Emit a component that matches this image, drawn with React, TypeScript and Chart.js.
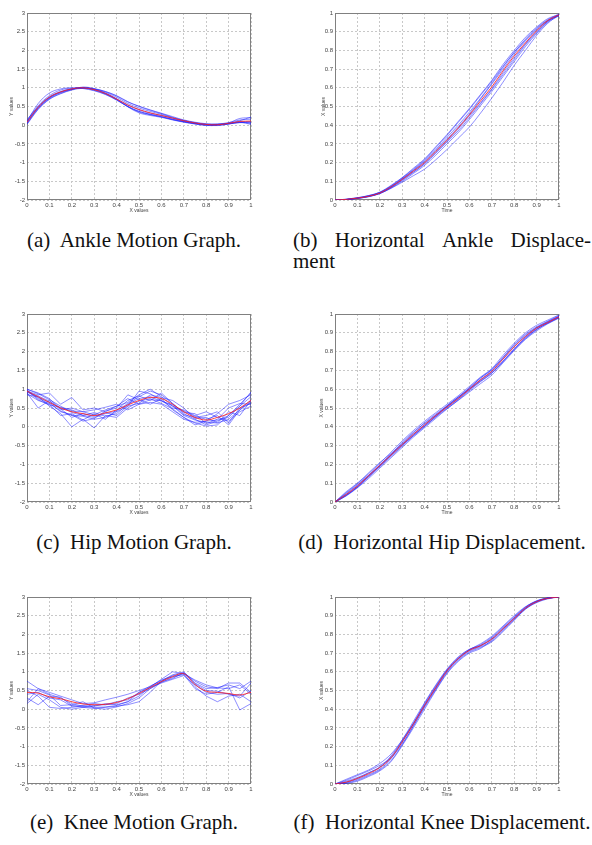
import React, { useEffect, useRef } from "react";
import { Chart, registerables } from "chart.js";
Chart.register(...registerables);

// ---------- data ----------
const TIME = [0, 0.05, 0.1, 0.15, 0.2, 0.25, 0.3, 0.35, 0.4, 0.45, 0.5, 0.55, 0.6, 0.65, 0.7, 0.75, 0.8, 0.85, 0.9, 0.95, 1];

// (a) Ankle motion
const ANKLE_MEAN = [0.08, 0.48, 0.75, 0.89, 0.97, 1.0, 0.95, 0.85, 0.7, 0.54, 0.42, 0.33, 0.26, 0.19, 0.12, 0.06, 0.02, 0.01, 0.05, 0.1, 0.11];
const ANKLE_1 = [0.02, 0.42, 0.69, 0.84, 0.94, 0.99, 0.97, 0.9, 0.78, 0.62, 0.51, 0.41, 0.32, 0.23, 0.14, 0.08, 0.04, 0.03, 0.05, 0.12, 0.22];
const ANKLE_2 = [0.1, 0.58, 0.86, 0.97, 1.0, 0.98, 0.92, 0.82, 0.67, 0.5, 0.37, 0.29, 0.23, 0.16, 0.1, 0.05, 0.01, 0.0, 0.03, 0.07, 0.05];
const ANKLE_3 = [0.15, 0.5, 0.76, 0.9, 0.97, 1.0, 0.95, 0.85, 0.69, 0.5, 0.35, 0.28, 0.22, 0.15, 0.09, 0.04, 0.0, -0.01, 0.03, 0.08, 0.02];
const ANKLE_4 = [0.05, 0.45, 0.72, 0.87, 0.96, 1.01, 0.97, 0.88, 0.75, 0.58, 0.46, 0.37, 0.29, 0.2, 0.12, 0.06, 0.02, 0.02, 0.06, 0.18, 0.2];
const ANKLE_5 = [0.08, 0.48, 0.74, 0.88, 0.96, 1.0, 0.96, 0.86, 0.71, 0.54, 0.41, 0.32, 0.26, 0.18, 0.11, 0.05, 0.02, 0.02, 0.05, 0.09, 0.1];
const ANKLE_6 = [0.12, 0.52, 0.79, 0.94, 0.99, 0.99, 0.93, 0.83, 0.68, 0.49, 0.33, 0.26, 0.21, 0.14, 0.08, 0.03, -0.01, 0.0, 0.04, 0.08, 0.06];
const ANKLE_7 = [0.04, 0.44, 0.7, 0.85, 0.95, 1.02, 0.98, 0.9, 0.79, 0.63, 0.5, 0.4, 0.31, 0.21, 0.13, 0.07, 0.03, 0.03, 0.07, 0.14, 0.16];
const ANKLE_8 = [0.1, 0.47, 0.73, 0.89, 0.97, 1.0, 0.95, 0.84, 0.69, 0.5, 0.37, 0.29, 0.23, 0.15, 0.09, 0.04, 0.01, 0.01, 0.04, 0.07, 0.08];

// (b) Horizontal ankle displacement
const ANKLE_X_MEAN = [0, 0.003, 0.01, 0.02, 0.037, 0.07, 0.11, 0.155, 0.2, 0.26, 0.32, 0.385, 0.455, 0.53, 0.605, 0.69, 0.77, 0.84, 0.905, 0.96, 0.99];
const ANKLE_X_1 = [0, 0.004, 0.012, 0.024, 0.042, 0.078, 0.12, 0.17, 0.22, 0.285, 0.35, 0.42, 0.49, 0.565, 0.64, 0.725, 0.8, 0.87, 0.925, 0.97, 0.99];
const ANKLE_X_2 = [0, 0.002, 0.008, 0.018, 0.035, 0.062, 0.095, 0.13, 0.165, 0.215, 0.27, 0.33, 0.39, 0.465, 0.545, 0.63, 0.72, 0.8, 0.88, 0.945, 0.99];
const ANKLE_X_3 = [0, 0.003, 0.011, 0.022, 0.04, 0.073, 0.115, 0.16, 0.21, 0.27, 0.335, 0.4, 0.47, 0.545, 0.625, 0.71, 0.79, 0.86, 0.92, 0.965, 0.995];
const ANKLE_X_4 = [0, 0.003, 0.009, 0.019, 0.036, 0.066, 0.105, 0.148, 0.193, 0.25, 0.31, 0.37, 0.44, 0.515, 0.59, 0.67, 0.75, 0.83, 0.895, 0.955, 0.99];
const ANKLE_X_5 = [0, 0.004, 0.012, 0.023, 0.041, 0.075, 0.118, 0.165, 0.215, 0.28, 0.345, 0.415, 0.485, 0.56, 0.635, 0.715, 0.79, 0.855, 0.915, 0.96, 0.985];
const ANKLE_X_6 = [0, 0.002, 0.009, 0.019, 0.035, 0.068, 0.108, 0.15, 0.195, 0.255, 0.315, 0.38, 0.45, 0.52, 0.595, 0.68, 0.76, 0.835, 0.9, 0.955, 0.99];
const ANKLE_X_7 = [0, 0.003, 0.01, 0.021, 0.038, 0.07, 0.112, 0.158, 0.205, 0.265, 0.325, 0.39, 0.46, 0.54, 0.62, 0.7, 0.78, 0.85, 0.91, 0.96, 0.99];
const ANKLE_X_8 = [0, 0.002, 0.009, 0.018, 0.034, 0.064, 0.1, 0.142, 0.185, 0.24, 0.3, 0.36, 0.43, 0.505, 0.58, 0.66, 0.74, 0.82, 0.89, 0.95, 0.985];

// (c) Hip motion
const HIP_MEAN = [0.95, 0.8, 0.65, 0.5, 0.4, 0.35, 0.3, 0.37, 0.45, 0.58, 0.7, 0.78, 0.75, 0.6, 0.4, 0.25, 0.18, 0.25, 0.35, 0.5, 0.7];
const HIP_1 = [1.0, 0.88, 0.72, 0.55, 0.38, 0.3, 0.25, 0.35, 0.42, 0.62, 0.8, 0.95, 0.85, 0.62, 0.35, 0.2, 0.05, 0.15, 0.3, 0.55, 0.8];
const HIP_2 = [0.9, 0.5, 0.7, 0.45, 0.5, 0.4, 0.32, 0.45, 0.55, 0.65, 0.85, 1.0, 0.8, 0.55, 0.3, 0.18, 0.12, 0.1, 0.2, 0.45, 0.65];
const HIP_3 = [0.95, 0.85, 0.9, 0.6, 0.78, 0.45, 0.5, 0.4, 0.55, 0.75, 0.6, 0.72, 0.7, 0.5, 0.45, 0.3, 0.4, 0.25, 0.15, 0.4, 0.55];
const HIP_4 = [0.85, 0.8, 0.55, 0.35, 0.0, 0.2, -0.03, 0.3, 0.25, 0.5, 0.68, 0.75, 0.62, 0.48, 0.25, 0.1, 0.02, 0.05, 0.3, 0.6, 0.9];
const HIP_5 = [0.98, 0.75, 0.62, 0.42, 0.3, 0.28, 0.2, 0.25, 0.4, 0.55, 0.95, 0.88, 0.7, 0.55, 0.42, 0.28, 0.2, 0.3, 0.05, 0.45, 0.72];
const HIP_6 = [0.92, 0.82, 0.68, 0.5, 0.42, 0.4, 0.45, 0.52, 0.6, 0.45, 0.6, 0.65, 0.6, 0.4, 0.2, 0.12, 0.15, 0.35, 0.6, 0.7, 0.85];
const HIP_7 = [0.88, 0.7, 0.6, 0.3, 0.35, 0.18, 0.35, 0.2, 0.45, 0.7, 0.82, 0.7, 0.9, 0.62, 0.38, 0.35, 0.08, 0.2, 0.5, 0.62, 0.6];
const HIP_8 = [1.0, 0.9, 0.75, 0.48, 0.25, 0.35, 0.28, 0.38, 0.3, 0.55, 0.62, 0.85, 0.78, 0.7, 0.5, 0.22, 0.25, 0.1, 0.4, 0.3, 0.7];
const HIP_9 = [0.93, 0.78, 0.65, 0.4, 0.32, 0.15, 0.22, 0.42, 0.5, 0.85, 0.72, 0.6, 0.75, 0.45, 0.25, 0.05, 0.15, 0.18, 0.25, 0.55, 0.93];
const HIP_10 = [0.96, 0.72, 0.58, 0.52, 0.45, 0.3, 0.38, 0.28, 0.35, 0.6, 0.75, 0.8, 0.68, 0.58, 0.32, 0.25, 0.3, 0.4, 0.1, 0.5, 0.62];

// (d) Horizontal hip displacement
const HIP_X_MEAN = [0, 0.04, 0.085, 0.14, 0.195, 0.25, 0.305, 0.36, 0.41, 0.46, 0.505, 0.55, 0.6, 0.65, 0.695, 0.76, 0.825, 0.88, 0.925, 0.955, 0.985];
const HIP_X_1 = [0, 0.05, 0.097, 0.15, 0.205, 0.265, 0.325, 0.38, 0.43, 0.475, 0.52, 0.565, 0.615, 0.665, 0.71, 0.78, 0.845, 0.9, 0.94, 0.968, 0.995];
const HIP_X_2 = [0, 0.032, 0.075, 0.125, 0.18, 0.235, 0.29, 0.345, 0.395, 0.445, 0.495, 0.54, 0.585, 0.63, 0.675, 0.74, 0.805, 0.865, 0.91, 0.948, 0.978];
const HIP_X_3 = [0, 0.055, 0.1, 0.155, 0.21, 0.258, 0.312, 0.368, 0.422, 0.468, 0.512, 0.558, 0.608, 0.66, 0.705, 0.77, 0.838, 0.893, 0.932, 0.962, 0.992];
const HIP_X_4 = [0, 0.037, 0.078, 0.132, 0.187, 0.242, 0.297, 0.352, 0.402, 0.452, 0.497, 0.542, 0.592, 0.64, 0.685, 0.75, 0.815, 0.872, 0.918, 0.953, 0.984];
const HIP_X_5 = [0, 0.042, 0.088, 0.142, 0.198, 0.252, 0.308, 0.362, 0.412, 0.462, 0.508, 0.552, 0.602, 0.652, 0.698, 0.762, 0.828, 0.882, 0.928, 0.958, 0.988];
const HIP_X_6 = [0, 0.035, 0.08, 0.136, 0.19, 0.246, 0.3, 0.356, 0.406, 0.456, 0.501, 0.546, 0.596, 0.646, 0.69, 0.748, 0.812, 0.875, 0.92, 0.95, 0.98];
const HIP_X_7 = [0, 0.046, 0.092, 0.142, 0.192, 0.252, 0.318, 0.372, 0.418, 0.462, 0.509, 0.556, 0.606, 0.66, 0.704, 0.768, 0.834, 0.888, 0.927, 0.96, 0.987];
const HIP_X_8 = [0, 0.034, 0.081, 0.135, 0.194, 0.252, 0.304, 0.352, 0.402, 0.453, 0.512, 0.558, 0.6, 0.643, 0.686, 0.745, 0.81, 0.868, 0.917, 0.953, 0.982];

// (e) Knee motion
const KNEE_MEAN = [0.45, 0.43, 0.33, 0.28, 0.2, 0.14, 0.12, 0.13, 0.18, 0.28, 0.42, 0.58, 0.74, 0.87, 0.95, 0.66, 0.48, 0.45, 0.42, 0.38, 0.45];
const KNEE_1 = [0.75, 0.55, 0.4, 0.3, 0.15, 0.08, 0.05, 0.06, 0.1, 0.2, 0.45, 0.62, 0.76, 0.92, 1.0, 0.7, 0.55, 0.58, 0.65, 0.55, 0.75];
const KNEE_2 = [0.2, 0.55, 0.45, 0.35, 0.25, 0.15, 0.17, 0.25, 0.32, 0.4, 0.5, 0.6, 0.8, 1.0, 0.95, 0.6, 0.35, 0.2, 0.35, 0.4, 0.2];
const KNEE_3 = [0.3, 0.12, 0.35, 0.32, 0.1, 0.05, 0.02, 0.05, 0.08, 0.12, 0.2, 0.45, 0.75, 0.9, 0.97, 0.75, 0.6, 0.55, 0.7, 0.7, 0.45];
const KNEE_4 = [0.5, 0.35, 0.05, 0.02, 0.05, 0.08, 0.1, 0.12, 0.15, 0.3, 0.4, 0.55, 0.72, 0.85, 0.95, 0.78, 0.65, 0.57, 0.55, 0.65, 0.4];
const KNEE_5 = [0.4, 0.45, 0.3, 0.25, 0.08, 0.1, 0.15, 0.12, 0.2, 0.25, 0.45, 0.58, 0.7, 0.8, 0.9, 0.65, 0.45, 0.4, 0.42, 0.3, 0.5];
const KNEE_6 = [0.15, 0.4, 0.25, 0.05, 0.0, 0.05, 0.08, 0.15, 0.12, 0.2, 0.35, 0.6, 0.78, 0.88, 0.92, 0.55, 0.4, 0.45, 0.6, -0.02, 0.15];
const KNEE_7 = [0.55, 0.5, 0.38, 0.1, 0.12, 0.2, 0.03, 0.0, 0.06, 0.15, 0.3, 0.55, 0.73, 0.82, 0.98, 0.68, 0.5, 0.48, 0.4, 0.35, 0.7];

// (f) Horizontal knee displacement
const KNEE_X_MEAN = [0, 0.01, 0.03, 0.055, 0.088, 0.14, 0.225, 0.32, 0.42, 0.515, 0.605, 0.67, 0.715, 0.74, 0.775, 0.83, 0.885, 0.94, 0.975, 0.993, 1.0];
const KNEE_X_1 = [0, 0.025, 0.05, 0.075, 0.11, 0.16, 0.235, 0.325, 0.425, 0.52, 0.61, 0.675, 0.72, 0.745, 0.785, 0.84, 0.895, 0.945, 0.98, 0.995, 1.0];
const KNEE_X_2 = [0, 0.005, 0.02, 0.045, 0.075, 0.125, 0.21, 0.31, 0.41, 0.505, 0.595, 0.66, 0.705, 0.73, 0.76, 0.815, 0.875, 0.935, 0.97, 0.99, 1.0];
const KNEE_X_3 = [0, 0.015, 0.035, 0.06, 0.09, 0.15, 0.235, 0.335, 0.435, 0.53, 0.615, 0.68, 0.72, 0.74, 0.775, 0.83, 0.89, 0.945, 0.978, 0.995, 1.0];
const KNEE_X_4 = [0, 0.003, 0.015, 0.04, 0.07, 0.12, 0.205, 0.3, 0.4, 0.5, 0.59, 0.655, 0.7, 0.725, 0.77, 0.825, 0.88, 0.935, 0.972, 0.992, 1.0];
const KNEE_X_5 = [0, 0.01, 0.03, 0.06, 0.09, 0.145, 0.23, 0.325, 0.43, 0.525, 0.61, 0.672, 0.718, 0.75, 0.79, 0.845, 0.9, 0.948, 0.978, 0.994, 1.0];
const KNEE_X_6 = [0, 0.02, 0.045, 0.07, 0.1, 0.14, 0.215, 0.31, 0.415, 0.51, 0.6, 0.665, 0.71, 0.735, 0.765, 0.82, 0.88, 0.938, 0.974, 0.993, 1.0];
const KNEE_X_7 = [0, 0.008, 0.025, 0.05, 0.08, 0.135, 0.225, 0.32, 0.42, 0.515, 0.605, 0.67, 0.715, 0.74, 0.78, 0.835, 0.888, 0.94, 0.976, 0.994, 1.0];

// axis ranges
const MOTION_RANGE = [-2, 3, 0.5];
const DISP_RANGE = [0, 1, 0.1];
const TIME_RANGE = [0, 1, 0.1];

// ---------- drawing ----------
const SANS = "'Liberation Sans', Arial, Helvetica, sans-serif";
const SERIF = "'Liberation Serif', 'Times New Roman', Times, serif";

const framePlugin = {
  id: "frame",
  beforeDatasetsDraw(chart: any) {
    const { ctx, chartArea } = chart;
    const l = Math.round(chartArea.left) + 0.5;
    const t = Math.round(chartArea.top) + 0.5;
    const r = Math.round(chartArea.right) - 0.5;
    const b = Math.round(chartArea.bottom) - 0.5;
    ctx.save();
    ctx.strokeStyle = "#808080";
    ctx.lineWidth = 1;
    ctx.strokeRect(l, t, r - l, b - t);
    ctx.restore();
  },
};

type Geo = { plotL: number; plotT: number; plotR: number; plotB: number; yTitleX: number };

function fmt(v: any) {
  const n = Math.round(Number(v) * 10) / 10;
  return String(n);
}

function Panel(props: {
  geo: Geo;
  trials: number[][];
  mean: number[];
  yRange: number[];
  xTitle: string;
  yTitle: string;
  jagged: boolean;
  monotone: boolean;
}) {
  const ref = useRef<HTMLCanvasElement | null>(null);
  const { geo } = props;
  const padTop = 8;
  const padRight = 8;
  const xAxisH = 14;
  const cl = geo.plotL - (geo.plotL > 300 ? 30 : 27);
  const ct = geo.plotT - padTop;
  const cw = geo.plotR + padRight - cl;
  const ch = geo.plotB + xAxisH - ct;
  const yAxisW = geo.plotL - cl;

  useEffect(() => {
    const canvas = ref.current;
    if (!canvas) return;
    const pts = (arr: number[]) => TIME.map((x, i) => ({ x, y: arr[i] }));
    const curve = props.monotone
      ? { cubicInterpolationMode: "monotone" as const }
      : { tension: 0.35 };
    const datasets: any[] = [
      {
        data: pts(props.mean),
        borderColor: "rgba(255,30,30,0.85)",
        borderWidth: 1,
        pointRadius: 0,
        fill: false,
        ...curve,
      },
      ...props.trials.map((t) => ({
        data: pts(t),
        borderColor: "rgba(30,30,255,0.5)",
        borderWidth: 1,
        pointRadius: 0,
        fill: false,
        ...(props.jagged ? { tension: 0 } : curve),
      })),
    ];
    const tickFont = { family: SANS, size: 6 };
    const titleFont = { family: SANS, size: 5, lineHeight: 1.2 };
    const chart = new Chart(canvas, {
      type: "line",
      data: { datasets },
      options: {
        responsive: true,
        maintainAspectRatio: false,
        animation: false,
        events: [],
        layout: { padding: { top: padTop, right: padRight, bottom: 0, left: 0 } },
        plugins: { legend: { display: false }, tooltip: { enabled: false } },
        scales: {
          x: {
            type: "linear",
            min: TIME_RANGE[0],
            max: TIME_RANGE[1],
            ticks: {
              stepSize: TIME_RANGE[2],
              font: tickFont,
              color: "#444",
              padding: 2,
              maxRotation: 0,
              autoSkip: false,
              callback: (v: any) => fmt(v),
            },
            grid: { color: "#c8c8c8", lineWidth: 1, drawTicks: false },
            border: { display: false, dash: [2, 2] },
            title: { display: true, text: props.xTitle, font: titleFont, color: "#444", padding: { top: 0, bottom: 0 } },
            afterFit: (s: any) => {
              s.height = xAxisH;
            },
          },
          y: {
            type: "linear",
            min: props.yRange[0],
            max: props.yRange[1],
            ticks: {
              stepSize: props.yRange[2],
              font: tickFont,
              color: "#444",
              padding: 2,
              autoSkip: false,
              callback: (v: any) => fmt(v),
            },
            grid: { color: "#c8c8c8", lineWidth: 1, drawTicks: false },
            border: { display: false, dash: [2, 2] },
            title: {
              display: true,
              text: props.yTitle,
              font: titleFont,
              color: "#444",
              padding: { top: geo.yTitleX - cl - 3, bottom: 0 },
            },
            afterFit: (s: any) => {
              s.width = yAxisW;
            },
          },
        },
      } as any,
      plugins: [framePlugin],
    });
    return () => chart.destroy();
  }, []);

  return (
    <div style={{ position: "absolute", left: cl, top: ct, width: cw, height: ch }}>
      <canvas ref={ref} />
    </div>
  );
}

const capStyle: React.CSSProperties = {
  position: "absolute",
  fontFamily: SERIF,
  fontSize: 21,
  lineHeight: "21px",
  color: "#111",
  whiteSpace: "nowrap",
};

function Caption({ cx, top, text }: { cx: number; top: number; text: string }) {
  return <div style={{ ...capStyle, left: cx, top, transform: "translateX(-50%)" }}>{text}</div>;
}

const L = 27, R = 251, L2 = 335, R2 = 559;

export default function App() {
  return (
    <div style={{ position: "absolute", left: 0, top: 0, width: 592, height: 845, background: "#fff", overflow: "hidden" }}>
      <Panel
        geo={{ plotL: L, plotT: 13, plotR: R, plotB: 200, yTitleX: 12 }}
        trials={[ANKLE_1, ANKLE_2, ANKLE_3, ANKLE_4, ANKLE_5, ANKLE_6, ANKLE_7, ANKLE_8]}
        mean={ANKLE_MEAN}
        yRange={MOTION_RANGE}
        xTitle="X values"
        yTitle="Y values"
        jagged={false}
        monotone={false}
      />
      <Panel
        geo={{ plotL: L2, plotT: 13, plotR: R2, plotB: 200, yTitleX: 324 }}
        trials={[ANKLE_X_1, ANKLE_X_2, ANKLE_X_3, ANKLE_X_4, ANKLE_X_5, ANKLE_X_6, ANKLE_X_7, ANKLE_X_8]}
        mean={ANKLE_X_MEAN}
        yRange={DISP_RANGE}
        xTitle="Time"
        yTitle="X values"
        jagged={false}
        monotone={true}
      />
      <Panel
        geo={{ plotL: L, plotT: 314, plotR: R, plotB: 502, yTitleX: 12 }}
        trials={[HIP_1, HIP_2, HIP_3, HIP_4, HIP_5, HIP_6, HIP_7, HIP_8, HIP_9, HIP_10]}
        mean={HIP_MEAN}
        yRange={MOTION_RANGE}
        xTitle="X values"
        yTitle="Y values"
        jagged={true}
        monotone={false}
      />
      <Panel
        geo={{ plotL: L2, plotT: 314, plotR: R2, plotB: 502, yTitleX: 322 }}
        trials={[HIP_X_1, HIP_X_2, HIP_X_3, HIP_X_4, HIP_X_5, HIP_X_6, HIP_X_7, HIP_X_8]}
        mean={HIP_X_MEAN}
        yRange={DISP_RANGE}
        xTitle="Time"
        yTitle="X values"
        jagged={false}
        monotone={true}
      />
      <Panel
        geo={{ plotL: L, plotT: 597, plotR: R, plotB: 784, yTitleX: 12 }}
        trials={[KNEE_1, KNEE_2, KNEE_3, KNEE_4, KNEE_5, KNEE_6, KNEE_7]}
        mean={KNEE_MEAN}
        yRange={MOTION_RANGE}
        xTitle="X values"
        yTitle="Y values"
        jagged={true}
        monotone={false}
      />
      <Panel
        geo={{ plotL: L2, plotT: 597, plotR: R2, plotB: 784, yTitleX: 322 }}
        trials={[KNEE_X_1, KNEE_X_2, KNEE_X_3, KNEE_X_4, KNEE_X_5, KNEE_X_6, KNEE_X_7]}
        mean={KNEE_X_MEAN}
        yRange={DISP_RANGE}
        xTitle="Time"
        yTitle="X values"
        jagged={false}
        monotone={true}
      />

      <Caption cx={134} top={230} text={"(a)\u00A0 Ankle Motion Graph."} />
      <div
        style={{
          ...capStyle,
          left: 293,
          top: 230,
          width: 298,
          display: "flex",
          justifyContent: "space-between",
        }}
      >
        <span>(b)</span>
        <span>Horizontal</span>
        <span>Ankle</span>
        <span>Displace-</span>
      </div>
      <div style={{ ...capStyle, left: 293, top: 251 }}>ment</div>
      <Caption cx={134} top={532} text={"(c)\u00A0 Hip Motion Graph."} />
      <Caption cx={442} top={532} text={"(d)\u00A0 Horizontal Hip Displacement."} />
      <Caption cx={134} top={812} text={"(e)\u00A0 Knee Motion Graph."} />
      <Caption cx={442} top={812} text={"(f)\u00A0 Horizontal Knee Displacement."} />
    </div>
  );
}
